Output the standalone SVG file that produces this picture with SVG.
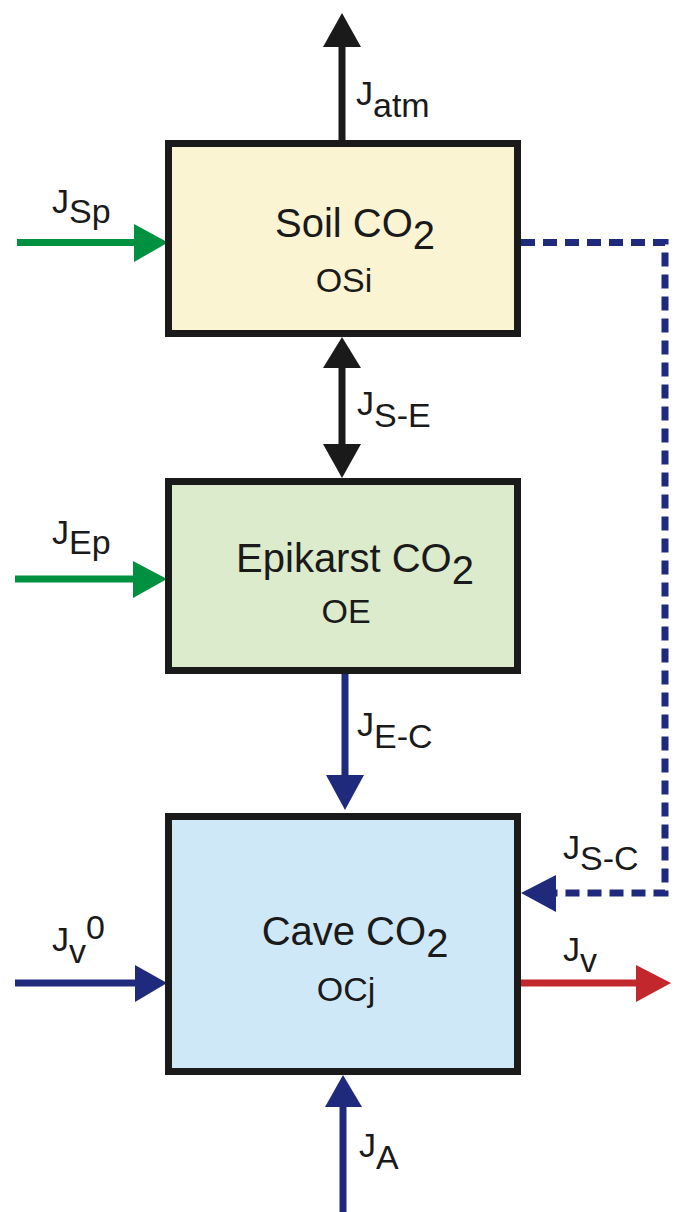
<svg xmlns="http://www.w3.org/2000/svg" width="678" height="1212" viewBox="0 0 678 1212">
<style>
.box{stroke:#1a1a1a;stroke-width:7}
.t{font-family:"Liberation Sans",Arial,sans-serif;fill:#1a1a1a}
.big{font-size:40px}
.mid{font-size:34px}
.lab{font-size:34px}
.ln{fill:none;stroke-width:7}
.k{stroke:#1a1a1a}.kf{fill:#1a1a1a}
.g{stroke:#009140}.gf{fill:#009140}
.b{stroke:#1f2a7c}.bf{fill:#1f2a7c}
.r{stroke:#c1272d}.rf{fill:#c1272d}
.dash{stroke-dasharray:14 8}
</style>
<rect width="678" height="1212" fill="#ffffff"/>
<g id="connectors">
  <!-- J_atm -->
  <line class="ln k" x1="342" y1="140" x2="342" y2="44"/>
  <polygon class="kf" points="342,13 323,47 361,47"/>
  <!-- J_Sp -->
  <line class="ln g" x1="17" y1="242.5" x2="137" y2="242.5"/>
  <polygon class="gf" points="168,242.5 134,224 134,262"/>
  <!-- J_S-E -->
  <line class="ln k" x1="342" y1="365" x2="342" y2="447"/>
  <polygon class="kf" points="342,337 323,368 361,368"/>
  <polygon class="kf" points="342,478 323,444 361,444"/>
  <!-- J_Ep -->
  <line class="ln g" x1="15" y1="579" x2="136" y2="579"/>
  <polygon class="gf" points="167,579 133,561 133,598"/>
  <!-- J_E-C -->
  <line class="ln b" x1="345" y1="674" x2="345" y2="778"/>
  <polygon class="bf" points="345,810 326,775 364,775"/>
  <!-- J_S-C dashed -->
  <path class="ln b dash" d="M521,242.5 H665 V893 H553"/>
  <polygon class="bf" points="521,893 556,875 556,912"/>
  <!-- J_v^0 -->
  <line class="ln b" x1="15" y1="983" x2="138" y2="983"/>
  <polygon class="bf" points="167,983 135,965 135,1002"/>
  <!-- J_v -->
  <line class="ln r" x1="521" y1="983" x2="639" y2="983"/>
  <polygon class="rf" points="671,983 636,965 636,1002"/>
  <!-- J_A -->
  <line class="ln b" x1="343" y1="1212" x2="343" y2="1104"/>
  <polygon class="bf" points="343,1075 325,1107 362,1107"/>
</g>
<g id="labels">
  <text class="t lab" x="356" y="105">J<tspan dy="12">atm</tspan></text>
  <text class="t lab" x="52" y="213">J<tspan dy="10">Sp</tspan></text>
  <text class="t lab" x="357" y="415">J<tspan dy="12">S-E</tspan></text>
  <text class="t lab" x="52" y="544">J<tspan dy="10">Ep</tspan></text>
  <text class="t lab" x="357" y="736">J<tspan dy="12">E-C</tspan></text>
  <text class="t lab" x="563" y="859">J<tspan dy="11">S-C</tspan></text>
  <text class="t lab" x="52" y="951">J<tspan dy="12">v</tspan><tspan dy="-24">0</tspan></text>
  <text class="t lab" x="563" y="961">J<tspan dy="11">v</tspan></text>
  <text class="t lab" x="359" y="1157">J<tspan dy="12">A</tspan></text>
</g>
<g id="soil">
  <rect class="box" x="168.5" y="143.5" width="349" height="190" fill="#fbf4d3"/>
  <text class="t big" x="355" y="237" text-anchor="middle">Soil CO<tspan dy="12">2</tspan></text>
  <text class="t mid" x="344" y="292" text-anchor="middle">OSi</text>
</g>
<g id="epikarst">
  <rect class="box" x="168.5" y="481.5" width="349" height="189" fill="#dcebcb"/>
  <text class="t big" x="355" y="572" text-anchor="middle">Epikarst CO<tspan dy="12">2</tspan></text>
  <text class="t mid" x="346" y="623" text-anchor="middle">OE</text>
</g>
<g id="cave">
  <rect class="box" x="168.5" y="816.5" width="349" height="255" fill="#cfe8f8"/>
  <text class="t big" x="355" y="945" text-anchor="middle">Cave CO<tspan dy="12">2</tspan></text>
  <text class="t mid" x="346" y="1001" text-anchor="middle">OCj</text>
</g>
</svg>
